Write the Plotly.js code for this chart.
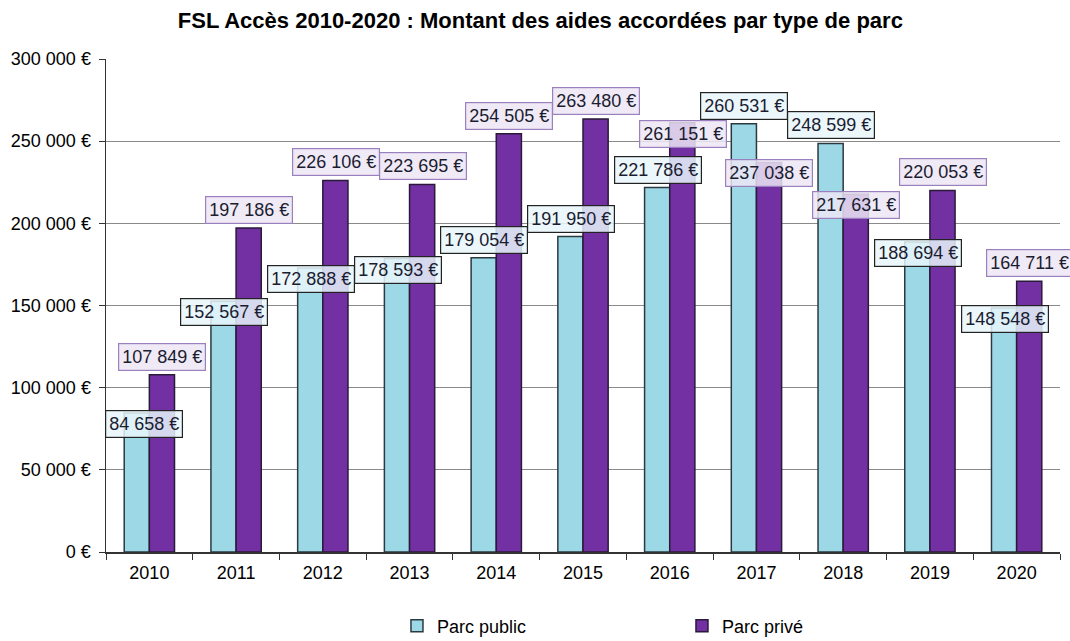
<!DOCTYPE html>
<html>
<head>
<meta charset="utf-8">
<script src="https://cdn.plot.ly/plotly-3.0.1.min.js"></script>
<style>html,body{margin:0;padding:0;background:#fff;}#chart{width:1070px;height:641px;}</style>
</head>
<body>
<div id="chart"></div>
<script>
const years = ["2010","2011","2012","2013","2014","2015","2016","2017","2018","2019","2020"];
const parcPublic = [84658,152567,172888,178593,179054,191950,221786,260531,248599,188694,148548];
const parcPrive  = [107849,197186,226106,223695,254505,263480,261151,237038,217631,220053,164711];
const yTicks = [0,50000,100000,150000,200000,250000,300000];
// label placement relative to bar top: 1 = above, -1 = below
const publicLabelSide = [-1,-1,-1,-1,1,1,1,1,1,-1,-1];
const priveLabelSide  = [1,1,1,1,1,1,-1,-1,-1,1,1];

function fmt(v){
  const s = String(Math.round(v));
  return s.replace(/\B(?=(\d{3})+(?!\d))/g, " ") + " €";
}

const font = "Arial, 'Liberation Sans', sans-serif";

const traces = [
  {type:"bar", name:"Parc public", x:years, y:parcPublic,
   marker:{color:"#9dd8e6", line:{color:"#2a3a40", width:1.5}}},
  {type:"bar", name:"Parc privé", x:years, y:parcPrive,
   marker:{color:"#7330a3", line:{color:"#2a1a3a", width:1.5}}}
];

const annotations = [];
years.forEach((yr,i)=>{
  annotations.push({x:i, y:parcPublic[i], xref:"x", yref:"y", text:fmt(parcPublic[i]),
    showarrow:false, xshift:-12 + (i===0?7:0), yshift: publicLabelSide[i]>0 ? 18 : -11,
    font:{family:font, size:18, color:"#1c1c30"},
    bgcolor:"rgba(232,246,250,0.85)", bordercolor:"#222", borderwidth:1.2, borderpad:3});
  annotations.push({x:i, y:parcPrive[i], xref:"x", yref:"y", text:fmt(parcPrive[i]),
    showarrow:false, xshift:13, yshift: priveLabelSide[i]>0 ? 18 : -11,
    font:{family:font, size:18, color:"#1c1c30"},
    bgcolor:"rgba(236,230,244,0.85)", bordercolor:"#9b80c0", borderwidth:1.2, borderpad:3});
});

const layout = {
  width:1070, height:641,
  margin:{l:106, r:10, t:59, b:89, autoexpand:false},
  paper_bgcolor:"#fff", plot_bgcolor:"#fff",
  title:{text:"<b>FSL Accès 2010-2020 : Montant des aides accordées par type de parc</b>",
         x:0.505, xanchor:"center", y:0.968, yanchor:"middle",
         font:{family:font, size:22, color:"#000"}},
  barmode:"group", bargap:0.42, bargroupgap:0,
  xaxis:{type:"category", range:[-0.5,10.5], autorange:false, tickson:"boundaries",
         ticks:"outside", ticklen:6, tickcolor:"#333", ticklabelstandoff:4,
         showline:true, linecolor:"#333", linewidth:1.5, showgrid:false,
         tickfont:{family:font, size:18, color:"#000"}},
  yaxis:{range:[0,300000], autorange:false, tickvals:yTicks, ticktext:yTicks.map(fmt), ticks:"outside", ticklen:6,
         ticklabelstandoff:4,
         tickcolor:"#333", showline:true, linecolor:"#333", linewidth:1.5,
         showgrid:true, gridcolor:"#8a8a8a", gridwidth:1, zeroline:false,
         tickfont:{family:font, size:18, color:"#000"}},
  legend:{orientation:"h", x:0.305, xanchor:"left", y:-0.15, yanchor:"middle",
          entrywidth:240, itemwidth:30, font:{family:font, size:18, color:"#000"}},
  annotations:annotations,
  showlegend:true
};

Plotly.newPlot("chart", traces, layout, {displayModeBar:false, staticPlot:true});
</script>
</body>
</html>
